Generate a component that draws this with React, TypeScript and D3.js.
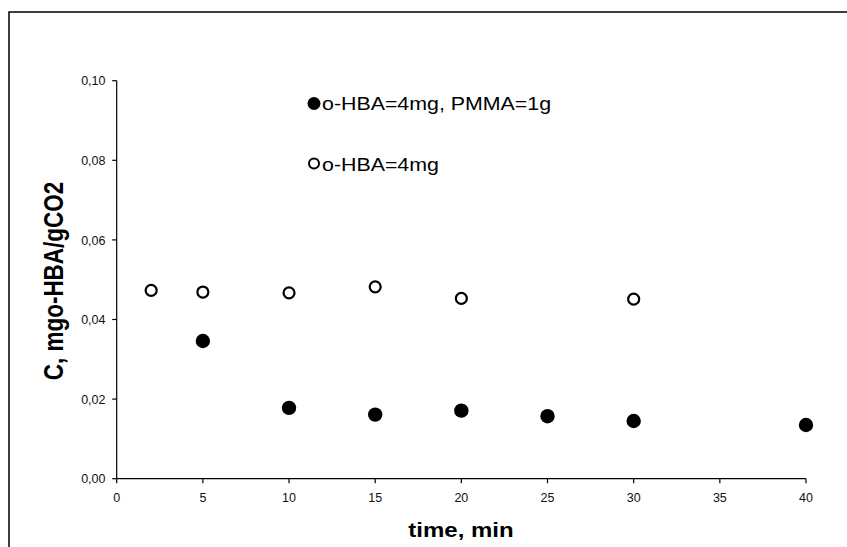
import React from 'react';
import * as d3 from 'd3';

const timeFilled = [5, 10, 15, 20, 25, 30, 40];
const concFilled = [0.0346, 0.0178, 0.0161, 0.0171, 0.0157, 0.0145, 0.0135];

const timeOpen = [2, 5, 10, 15, 20, 30];
const concOpen = [0.0473, 0.0469, 0.0467, 0.0482, 0.0453, 0.0451];

const xTicks = [0, 5, 10, 15, 20, 25, 30, 35, 40];
const yTicks = [0, 0.02, 0.04, 0.06, 0.08, 0.1];

const legendLabels = ['o-HBA=4mg, PMMA=1g', 'o-HBA=4mg'];

const W = 847;
const H = 547;
const SX = 1.2; // titles and legend in the original are stretched horizontally
const FONT = '"Liberation Sans", Arial, Helvetica, sans-serif';

export default function App() {
    const x = d3.scaleLinear().domain([0, 40]).range([116.7, 806]);
    const y = d3.scaleLinear().domain([0, 0.1]).range([478.7, 80.7]);
    const fmt = (v: number) => d3.format('.2f')(v).replace('.', ',');

    const filled = timeFilled.map((t, i) => ({ t, c: concFilled[i] }));
    const open = timeOpen.map((t, i) => ({ t, c: concOpen[i] }));

    return (
        <div style={{ position: 'fixed', left: 0, top: 0 }}>
            <svg width={W} height={H} style={{ display: 'block', background: '#fff' }}>
                <rect x={9} y={12} width={900} height={600} fill="none" stroke="#000" strokeWidth={1.5} />

                {/* axes */}
                <line x1={x(0)} x2={x(0)} y1={y(0.1)} y2={y(0)} stroke="#000" strokeWidth={1.2} />
                <line x1={x(0)} x2={x(40)} y1={y(0)} y2={y(0)} stroke="#000" strokeWidth={1.2} />

                {yTicks.map(v => (
                    <g key={'y' + v}>
                        <line x1={x(0) - 4.5} x2={x(0)} y1={y(v)} y2={y(v)} stroke="#000" strokeWidth={1.2} />
                        <text x={105.5} y={y(v) + 4.6} textAnchor="end" fontFamily={FONT} fontSize={12.5} fill="#111">{fmt(v)}</text>
                    </g>
                ))}

                {xTicks.map(v => (
                    <g key={'x' + v}>
                        <line x1={x(v)} x2={x(v)} y1={y(0)} y2={y(0) + 4.5} stroke="#000" strokeWidth={1.2} />
                        <text x={x(v)} y={502} textAnchor="middle" fontFamily={FONT} fontSize={12.5} fill="#111">{v}</text>
                    </g>
                ))}

                {/* axis titles */}
                <g transform={`translate(${461},${537})scale(${SX},1)`}>
                    <text textAnchor="middle" fontFamily={FONT} fontSize={20} fontWeight="bold">time, min</text>
                </g>
                <g transform={`translate(${63},${281})scale(${SX},1)rotate(-90)`}>
                    <text textAnchor="middle" fontFamily={FONT} fontSize={22.5} fontWeight="bold">C, mgo-HBA/gCO2</text>
                </g>

                {/* data */}
                {open.map(d => (
                    <circle key={'o' + d.t} cx={x(d.t)} cy={y(d.c)} r={5.5} fill="#fff" stroke="#000" strokeWidth={2.2} />
                ))}
                {filled.map(d => (
                    <circle key={'f' + d.t} cx={x(d.t)} cy={y(d.c)} r={7.2} fill="#000" />
                ))}

                {/* legend */}
                <circle cx={314} cy={103.5} r={6.5} fill="#000" />
                <g transform={`translate(${322},${110})scale(${SX},1)`}>
                    <text fontFamily={FONT} fontSize={17.8}>{legendLabels[0]}</text>
                </g>
                <circle cx={314} cy={163.5} r={5} fill="#fff" stroke="#000" strokeWidth={2} />
                <g transform={`translate(${322},${170.5})scale(${SX},1)`}>
                    <text fontFamily={FONT} fontSize={17.8}>{legendLabels[1]}</text>
                </g>
            </svg>
        </div>
    );
}
